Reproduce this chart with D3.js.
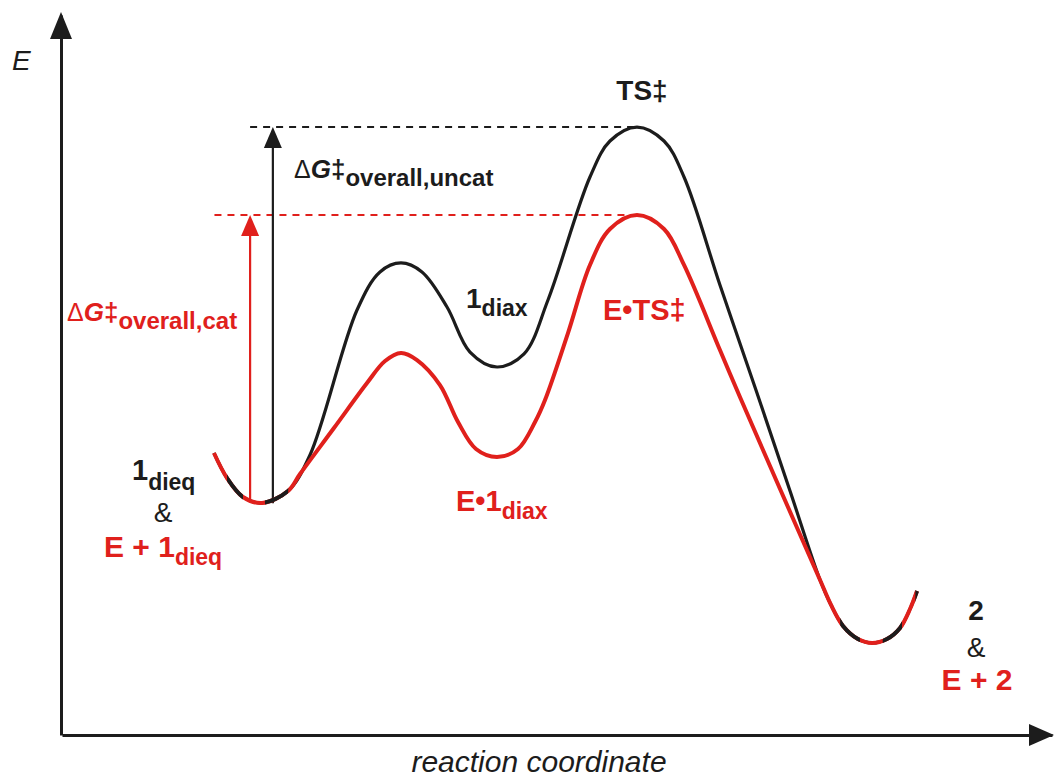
<!DOCTYPE html>
<html>
<head>
<meta charset="utf-8">
<script src="https://cdn.jsdelivr.net/npm/d3@7"></script>
<style>
  body { margin: 0; background: #fff; }
  svg { display: block; }
  text { font-family: "Liberation Sans", Arial, sans-serif; }
</style>
</head>
<body>
<svg id="chart" width="1054" height="778"></svg>
<script>
// Energy profile: reaction coordinate (0–100) vs energy (0–100, arbitrary units)

// Starting well, shared by both pathways
const wellStartX = [15.35, 16.67, 18.28, 20.2, 22.83];
const wellStartE = [39.17, 35.69, 33.06, 32.22, 33.89];

// Uncatalysed pathway between the wells
const uncatX = [25.05, 29.8, 32.12, 34.24, 36.36, 38.89, 41.21, 43.94, 46.67, 49.09, 53.33, 55.35, 58.08, 60.81, 62.83, 66.46, 70.2, 73.54];
const uncatE = [38.89, 59.03, 64.31, 65.56, 64.31, 59.44, 53.19, 51.11, 52.92, 60.42, 77.5, 82.5, 84.44, 82.5, 77.5, 62.5, 47.5, 33.89];

// Enzyme-catalysed pathway between the wells
const catX = [24.04, 27.47, 30.81, 32.63, 34.24, 35.86, 38.18, 40.0, 41.82, 43.94, 46.06, 47.78, 48.79, 51.11, 53.33, 55.35, 58.08, 60.81, 62.83, 66.46, 68.48, 72.53];
const catE = [36.25, 42.64, 48.89, 51.94, 53.06, 52.08, 48.61, 43.47, 39.72, 38.61, 39.72, 43.47, 46.53, 55.83, 65.28, 70.28, 72.22, 70.28, 65.28, 53.47, 46.94, 34.17];

// Product well, shared by both pathways
const wellEndX = [76.57, 77.68, 78.89, 80.4, 81.82, 83.33, 84.65, 85.66, 86.36];
const wellEndE = [21.53, 18.06, 15.14, 13.33, 12.78, 13.33, 14.86, 17.5, 20.0];

// Overall barriers: [reaction coordinate of arrow, start energy, transition-state energy]
const barrierUncat = [21.3, 32.2, 84.44];
const barrierCat = [19.0, 32.6, 72.22];
// Reaction coordinate where each dashed reference level starts, and of the TS
const levelStartUncat = 19.0;
const levelStartCat = 15.4;
const tsX = 58.08;

const RED = "#e0201c";
const BLACK = "#1c1c1c";

const svg = d3.select("#chart");
const x = d3.scaleLinear().domain([0, 100]).range([62, 1052]);
const y = d3.scaleLinear().domain([0, 100]).range([735, 15]);

const zip = (xs, es) => xs.map((v, i) => [v, es[i]]);
const uncatPts = [...zip(wellStartX, wellStartE), ...zip(uncatX, uncatE), ...zip(wellEndX, wellEndE)];
const catPts = [...zip(wellStartX, wellStartE), ...zip(catX, catE), ...zip(wellEndX, wellEndE)];

const line = d3.line().x(d => x(d[0])).y(d => y(d[1])).curve(d3.curveCatmullRom.alpha(0.5));

// Axes (no ticks), with arrowheads
const yAxis = svg.append("g").attr("transform", `translate(${x(0) - 1},0)`)
  .call(d3.axisLeft(y).tickValues([]).tickSizeOuter(0));
const xAxis = svg.append("g").attr("transform", `translate(0,${y(0)})`)
  .call(d3.axisBottom(x).tickValues([]).tickSizeOuter(0));
[yAxis, xAxis].forEach(g => g.select(".domain").attr("stroke", BLACK).attr("stroke-width", 3));

const x0 = x(0) - 1, yTop = 12, xRight = 1054, y0 = y(0);
svg.append("path").attr("fill", BLACK)
  .attr("d", `M${x0},${yTop} L${x0 + 11},${yTop + 27} L${x0 - 11},${yTop + 27} Z`);
svg.append("path").attr("fill", BLACK)
  .attr("d", `M${xRight},${y0} L${xRight - 25},${y0 - 11} L${xRight - 25},${y0 + 11} Z`);

// Dashed transition-state levels
svg.append("line")
  .attr("x1", x(levelStartUncat)).attr("x2", x(tsX))
  .attr("y1", y(barrierUncat[2])).attr("y2", y(barrierUncat[2]))
  .attr("stroke", BLACK).attr("stroke-width", 2).attr("stroke-dasharray", "7,6");
svg.append("line")
  .attr("x1", x(levelStartCat)).attr("x2", x(tsX))
  .attr("y1", y(barrierCat[2])).attr("y2", y(barrierCat[2]))
  .attr("stroke", RED).attr("stroke-width", 2).attr("stroke-dasharray", "7,6");

// Barrier arrows
function barrierArrow(b, color) {
  const ax = x(b[0]), yb = y(b[1]), yt = y(b[2]);
  svg.append("line").attr("x1", ax).attr("x2", ax).attr("y1", yb).attr("y2", yt + 16)
    .attr("stroke", color).attr("stroke-width", 2.2);
  svg.append("path").attr("fill", color)
    .attr("d", `M${ax},${yt} L${ax + 9},${yt + 21} L${ax - 9},${yt + 21} Z`);
}
barrierArrow(barrierUncat, BLACK);
barrierArrow(barrierCat, RED);

// Energy curves
const uncatPath = line(uncatPts);
const catPath = line(catPts);
svg.append("path").attr("d", uncatPath).attr("fill", "none")
  .attr("stroke", BLACK).attr("stroke-width", 3.2);
svg.append("path").attr("d", catPath).attr("fill", "none")
  .attr("stroke", RED).attr("stroke-width", 4);

// Shared wells drawn with alternating black/red stretches
const blackStretches = [[16.67, 18.28], [20.5, 22.85], [78.6, 80.6], [82.9, 84.85], [86.2, 86.6]];
const clip = svg.append("defs").append("clipPath").attr("id", "sharedClip");
blackStretches.forEach(([a, b]) => {
  clip.append("rect").attr("x", x(a)).attr("width", x(b) - x(a)).attr("y", 0).attr("height", 778);
});
svg.append("path").attr("d", catPath).attr("fill", "none")
  .attr("stroke", BLACK).attr("stroke-width", 4).attr("clip-path", "url(#sharedClip)");

// Labels
function label(px, py, parts, opts = {}) {
  const t = svg.append("text").attr("x", px).attr("y", py)
    .attr("fill", opts.color || BLACK)
    .attr("text-anchor", opts.anchor || "start");
  parts.forEach(p => {
    const s = t.append("tspan").text(p.t)
      .attr("font-size", p.size || 28)
      .attr("font-weight", p.weight || "bold")
      .attr("font-style", p.style || "normal");
    if (p.dy) s.attr("dy", p.dy);
  });
  return t;
}

label(12, 70, [{ t: "E", weight: "normal", style: "italic" }]);
label(539, 772, [{ t: "reaction coordinate", weight: "normal", style: "italic", size: 30 }], { anchor: "middle" });

label(642, 100, [{ t: "TS‡" }], { anchor: "middle" });

label(294, 178, [
  { t: "Δ", weight: "normal", size: 25 },
  { t: "G", style: "italic", size: 26 },
  { t: "‡", size: 26 },
  { t: "overall,uncat", size: 24, dy: 8 }
]);
label(67, 321, [
  { t: "Δ", weight: "normal", size: 25 },
  { t: "G", style: "italic", size: 26 },
  { t: "‡", size: 26 },
  { t: "overall,cat", size: 24, dy: 8 }
], { color: RED });

label(466, 308, [{ t: "1", size: 28 }, { t: "diax", size: 23, dy: 8 }]);
label(603, 320, [{ t: "E•TS‡", size: 29 }], { color: RED });
label(456, 511, [{ t: "E•1", size: 29 }, { t: "diax", size: 23, dy: 8 }], { color: RED });

label(132, 480, [{ t: "1", size: 29 }, { t: "dieq", size: 23, dy: 10 }]);
label(163, 522, [{ t: "&", weight: "normal", size: 28 }], { anchor: "middle" });
label(104, 557, [{ t: "E + 1", size: 30 }, { t: "dieq", size: 23, dy: 8 }], { color: RED });

label(976, 620, [{ t: "2", size: 28 }], { anchor: "middle" });
label(976, 657, [{ t: "&", weight: "normal", size: 28 }], { anchor: "middle" });
label(977, 690, [{ t: "E + 2", size: 30 }], { anchor: "middle", color: RED });
</script>
</body>
</html>
